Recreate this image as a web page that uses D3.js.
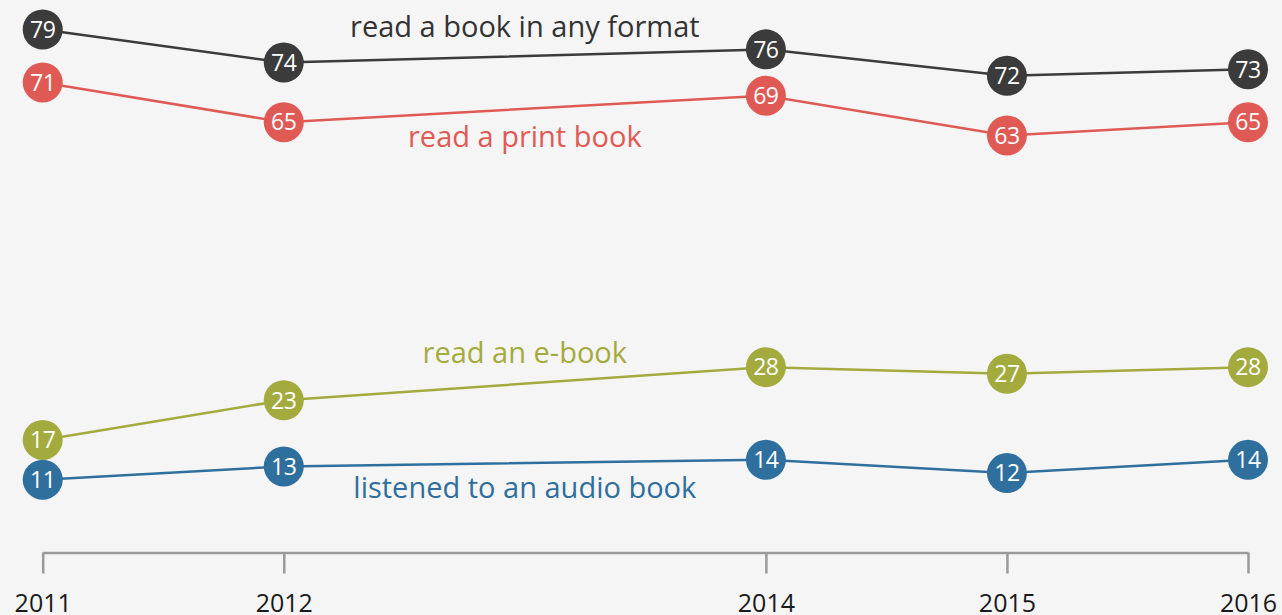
<!DOCTYPE html>
<html>
<head>
<meta charset="utf-8">
<script src="https://cdn.jsdelivr.net/npm/d3@7"></script>
<style>
  html, body { margin: 0; padding: 0; background: #f5f5f5; overflow: hidden; }
  svg { display: block; }
  .axis text { font-family: "Open Sans", sans-serif; font-size: 25px; fill: #1a1a1a; }
  .axis path, .axis line { stroke: #9a9a9a; stroke-width: 2.5; }
  .label { font-family: "Open Sans", sans-serif; font-size: 29px; text-anchor: middle; }
  .val { font-family: "Open Sans", sans-serif; font-size: 23px; fill: #fff; text-anchor: middle; letter-spacing: -0.5px; }
</style>
</head>
<body>
<svg id="chart" width="1282" height="615"></svg>
<script>
// data
var years = [2011, 2012, 2014, 2015, 2016];
var anyFormat = [79, 74, 76, 72, 73];
var printBook = [71, 65, 69, 63, 65];
var eBook = [17, 23, 28, 27, 28];
var audioBook = [11, 13, 14, 12, 14];

var seriesNames = ["read a book in any format", "read a print book", "read an e-book", "listened to an audio book"];

var color = {
  any: "#3b3b3b",
  print: "#e05a55",
  ebook: "#a4ab3e",
  audio: "#2f6f9e"
};

var svg = d3.select("#chart");

// scales
var x = d3.scaleLinear().domain([2011, 2016]).range([42.7, 1248]);
var y = d3.scaleLinear().domain([0, 79]).range([552.5, 29.5]);

// axis
var xAxis = d3.axisBottom(x)
  .tickValues(years)
  .tickFormat(d3.format("d"))
  .tickSizeInner(21)
  .tickSizeOuter(0)
  .tickPadding(21);

svg.append("g")
  .attr("class", "axis")
  .attr("transform", "translate(0," + y(0) + ")")
  .call(xAxis);

// series labels sit mid-way (2013) above or below their line
var series = [
  {name: seriesNames[0], values: anyFormat, color: color.any, text: "#333", lx: 2013, ly: 75, dy: -19},
  {name: seriesNames[1], values: printBook, color: color.print, text: color.print, lx: 2013, ly: 67, dy: 38},
  {name: seriesNames[2], values: eBook, color: color.ebook, text: color.ebook, lx: 2013, ly: 25.5, dy: -20.5},
  {name: seriesNames[3], values: audioBook, color: color.audio, text: color.audio, lx: 2013, ly: 13.5, dy: 35}
];

var line = d3.line()
  .x(function(d){ return x(d.year); })
  .y(function(d){ return y(d.value); });

var groups = svg.selectAll("g.series")
  .data(series).enter()
  .append("g").attr("class", "series");

groups.append("path")
  .attr("d", function(s){
    return line(years.map(function(yr, i){ return {year: yr, value: s.values[i]}; }));
  })
  .attr("fill", "none")
  .attr("stroke", function(s){ return s.color; })
  .attr("stroke-width", 2.5);

groups.append("text")
  .attr("class", "label")
  .attr("x", function(s){ return x(s.lx); })
  .attr("y", function(s){ return y(s.ly) + s.dy; })
  .attr("fill", function(s){ return s.text; })
  .text(function(s){ return s.name; });

var pts = groups.selectAll("g.pt")
  .data(function(s){
    return years.map(function(yr, i){ return {year: yr, value: s.values[i], color: s.color}; });
  }).enter()
  .append("g").attr("class", "pt")
  .attr("transform", function(d){ return "translate(" + x(d.year) + "," + y(d.value) + ")"; });

pts.append("circle")
  .attr("r", 20)
  .attr("fill", function(d){ return d.color; });

pts.append("text")
  .attr("class", "val")
  .attr("dy", "0.36em")
  .text(function(d){ return d.value; });
</script>
</body>
</html>
